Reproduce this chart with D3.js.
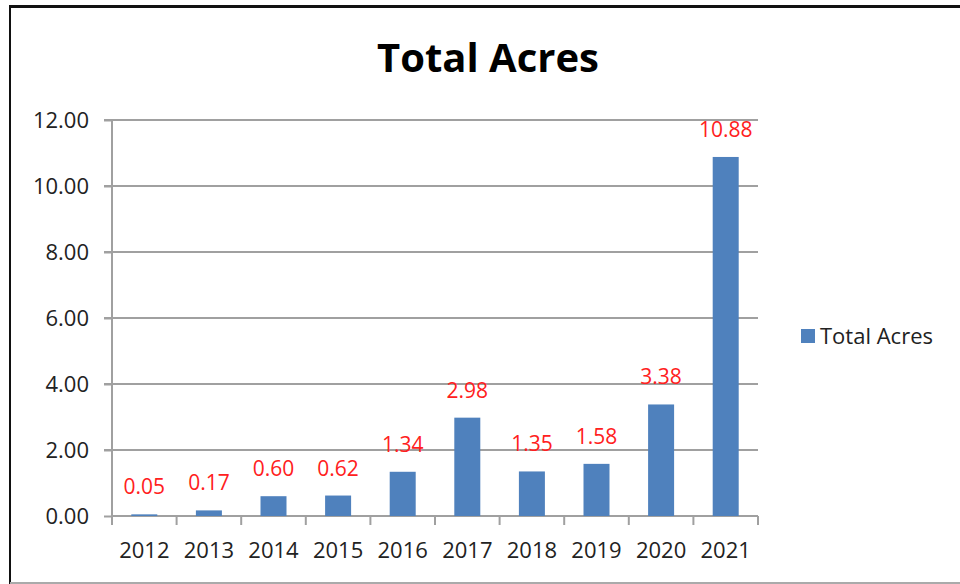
<!DOCTYPE html>
<html>
<head>
<meta charset="utf-8">
<script src="https://cdn.jsdelivr.net/npm/d3@7"></script>
<style>
  body { margin: 0; background: #fff; }
  text { font-family: "Open Sans", sans-serif; }
</style>
</head>
<body>
<script>
var years = ["2012", "2013", "2014", "2015", "2016", "2017", "2018", "2019", "2020", "2021"];
var acres = [0.05, 0.17, 0.60, 0.62, 1.34, 2.98, 1.35, 1.58, 3.38, 10.88];
var yTicks = [0, 2, 4, 6, 8, 10, 12];

var width = 960, height = 584;

var svg = d3.select("body").append("svg")
    .attr("width", width)
    .attr("height", height);

// frame of the chart object
svg.append("rect")
    .attr("x", 0).attr("y", 0).attr("width", width).attr("height", height)
    .attr("fill", "#fff");
svg.append("line").attr("x1", 10).attr("x2", width).attr("y1", 6.5).attr("y2", 6.5)
    .attr("stroke", "#111").attr("stroke-width", 3);
svg.append("line").attr("x1", 10).attr("x2", 10).attr("y1", 5).attr("y2", 584)
    .attr("stroke", "#111").attr("stroke-width", 2);
svg.append("line").attr("x1", 10).attr("x2", width).attr("y1", 583).attr("y2", 583)
    .attr("stroke", "#aaa").attr("stroke-width", 2);

var xb = d3.scaleBand().domain(years).range([112, 758]);

var y = d3.scaleLinear()
    .domain([0, 12])
    .range([516, 120]);

// gridlines
svg.append("g")
  .selectAll("line")
  .data(yTicks.slice(1))
  .enter().append("line")
    .attr("x1", 104)
    .attr("x2", 758)
    .attr("y1", function(d) { return y(d); })
    .attr("y2", function(d) { return y(d); })
    .attr("stroke", "#a0a0a0")
    .attr("stroke-width", 2);

// y axis
var yAxis = svg.append("g")
    .attr("transform", "translate(112,0)")
    .call(d3.axisLeft(y).tickValues(yTicks).tickFormat(d3.format(".2f")).tickSize(8).tickPadding(15));
yAxis.select(".domain").attr("stroke", "#a0a0a0").attr("stroke-width", 2).attr("d", "M0,516V120");
yAxis.selectAll(".tick line").attr("stroke", "#a0a0a0").attr("stroke-width", 2);
yAxis.selectAll(".tick text").attr("font-size", 22).attr("fill", "#222")
    .attr("font-family", "Open Sans, sans-serif");

// x axis
var xAxis = svg.append("g")
    .attr("transform", "translate(0,516)")
    .call(d3.axisBottom(xb).tickSize(0).tickPadding(26));
xAxis.select(".domain").attr("stroke", "#a0a0a0").attr("stroke-width", 2).attr("d", "M112,0H758");
xAxis.selectAll(".tick text").attr("font-size", 22).attr("fill", "#222")
    .attr("font-family", "Open Sans, sans-serif");

// category dividers
svg.append("g")
  .selectAll("line")
  .data(years)
  .enter().append("line")
    .attr("x1", function(d) { return xb(d) + xb.bandwidth(); })
    .attr("x2", function(d) { return xb(d) + xb.bandwidth(); })
    .attr("y1", 516)
    .attr("y2", 525)
    .attr("stroke", "#a0a0a0")
    .attr("stroke-width", 2);
svg.append("line").attr("x1", 112).attr("x2", 112).attr("y1", 516).attr("y2", 525)
    .attr("stroke", "#a0a0a0").attr("stroke-width", 2);

// bars
svg.append("g")
  .selectAll("rect")
  .data(acres)
  .enter().append("rect")
    .attr("x", function(d, i) { return xb(years[i]) + xb.bandwidth() / 2 - 13; })
    .attr("width", 26)
    .attr("y", function(d) { return y(d); })
    .attr("height", function(d) { return 516 - y(d); })
    .attr("fill", "#4f81bd");

// value labels
svg.append("g")
  .selectAll("text")
  .data(acres)
  .enter().append("text")
    .attr("x", function(d, i) { return xb(years[i]) + xb.bandwidth() / 2; })
    .attr("y", function(d) { return y(d) - 20; })
    .attr("text-anchor", "middle")
    .attr("font-size", 21)
    .attr("fill", "#ff2020")
    .text(function(d) { return d3.format(".2f")(d); });

// title
svg.append("text")
    .attr("x", 488)
    .attr("y", 72)
    .attr("text-anchor", "middle")
    .attr("font-size", 40)
    .attr("font-weight", "bold")
    .attr("fill", "#000")
    .text("Total Acres");

// legend
svg.append("rect")
    .attr("x", 801).attr("y", 329).attr("width", 14).attr("height", 14)
    .attr("fill", "#4f81bd");
svg.append("text")
    .attr("x", 820)
    .attr("y", 344)
    .attr("font-size", 22)
    .attr("fill", "#222")
    .text("Total Acres");
</script>
</body>
</html>
